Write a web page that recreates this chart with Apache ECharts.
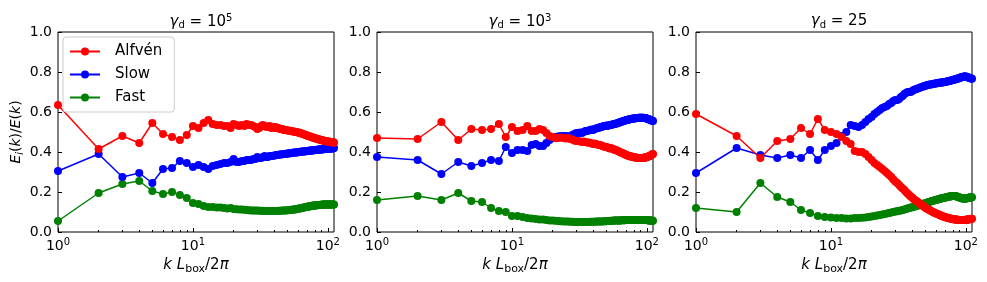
<!DOCTYPE html>
<html><head><meta charset="utf-8">
<script src="https://cdn.jsdelivr.net/npm/echarts@6/dist/echarts.min.js"></script>
<style>html,body{margin:0;padding:0;background:#fff}#c{width:987px;height:282px}</style>
</head><body><div id="c"></div>
<script>
const K = [1,2,3,4,5,6,7,8,9,10,11,12,13,14,15,16,17,18,19,20,21,22,23,24,25,26,27,28,29,30,31,32,33,34,35,36,37,38,39,40,41,42,43,44,45,46,47,48,49,50,51,52,53,54,55,56,57,58,59,60,61,62,63,64,65,66,67,68,69,70,71,72,73,74,75,76,77,78,79,80,81,82,83,84,85,86,87,88,89,90,91,92,93,94,95,96,97,98,99,100,101,102,103,104,105,106,107,108,109,110,111];
const seriesNames = ['Alfvén','Slow','Fast'];
const panelTitles = [['5'],['3'],['25']];
const xTicks = [1,10,100];
const xMinorTicks = [2,3,4,5,6,7,8,9,20,30,40,50,60,70,80,90];
const yTicks = [0,0.2,0.4,0.6,0.8,1.0];

// Panel 1: gamma_d = 1e5
const alfven1 = [0.635,0.415,0.48,0.445,0.545,0.49,0.475,0.46,0.485,0.53,0.52,0.545,0.56,
0.54,0.535,0.535,0.53,0.53,0.52,0.54,
0.535,0.53,0.535,0.53,0.54,0.535,0.535,0.53,0.525,0.515,
0.52,0.53,0.535,0.53,0.525,0.525,0.53,0.52,0.525,0.52,
0.525,0.52,0.52,0.515,0.515,0.515,0.51,0.51,0.51,0.508,
0.507,0.506,0.505,0.504,0.503,0.502,0.501,0.50,0.499,0.498,
0.497,0.495,0.494,0.492,0.49,0.489,0.487,0.486,0.484,0.483,
0.481,0.48,0.478,0.477,0.476,0.474,0.473,0.472,0.47,0.469,
0.468,0.467,0.466,0.465,0.464,0.463,0.462,0.461,0.46,0.459,
0.458,0.457,0.457,0.456,0.455,0.455,0.454,0.453,0.453,0.452,
0.452,0.451,0.451,0.45,0.45,0.45,0.449,0.449,0.449,0.448,0.448];
const slow1 = [0.305,0.39,0.275,0.295,0.245,0.315,0.32,0.355,0.345,0.325,0.335,0.325,0.315,
0.33,0.335,0.34,0.345,0.345,0.35,0.365,
0.35,0.35,0.355,0.355,0.36,0.36,0.36,0.365,0.365,0.375,
0.37,0.37,0.375,0.38,0.375,0.375,0.38,0.38,0.38,0.382,
0.384,0.385,0.386,0.387,0.388,0.389,0.39,0.39,0.391,0.392,
0.393,0.394,0.394,0.395,0.396,0.397,0.397,0.398,0.398,0.399,
0.40,0.40,0.401,0.402,0.402,0.403,0.403,0.404,0.404,0.405,
0.405,0.406,0.406,0.407,0.407,0.408,0.408,0.409,0.409,0.41,
0.41,0.41,0.411,0.411,0.412,0.412,0.412,0.413,0.413,0.413,
0.414,0.414,0.414,0.415,0.415,0.415,0.416,0.416,0.416,0.417,
0.417,0.417,0.417,0.418,0.418,0.418,0.418,0.419,0.419,0.419,0.42];
const fast1 = [0.055,0.195,0.24,0.255,0.205,0.19,0.20,0.185,0.17,0.145,0.14,0.13,0.125,
0.125,0.122,0.122,0.12,0.118,0.12,0.115,
0.114,0.113,0.112,0.111,0.11,0.109,0.108,0.108,0.107,0.107,
0.106,0.106,0.106,0.105,0.105,0.105,0.105,0.105,0.105,0.105,
0.105,0.105,0.106,0.106,0.106,0.107,0.107,0.108,0.108,0.109,
0.109,0.11,0.11,0.111,0.112,0.112,0.113,0.114,0.115,0.116,
0.117,0.118,0.119,0.12,0.121,0.122,0.123,0.124,0.125,0.126,
0.127,0.128,0.128,0.129,0.13,0.131,0.131,0.132,0.132,0.133,
0.133,0.134,0.134,0.134,0.135,0.135,0.135,0.136,0.136,0.136,
0.136,0.137,0.137,0.137,0.137,0.137,0.137,0.138,0.138,0.138,
0.138,0.138,0.138,0.138,0.138,0.138,0.138,0.137,0.137,0.137,0.137];

// Panel 2: gamma_d = 1e3
const alfven2 = [0.47,0.465,0.55,0.46,0.515,0.51,0.515,0.54,0.475,0.525,0.505,0.51,0.53,
0.505,0.505,0.515,0.51,0.495,0.48,0.475,
0.47,0.47,0.472,0.47,0.468,0.47,0.465,0.462,0.458,0.455,
0.455,0.452,0.45,0.452,0.45,0.448,0.447,0.445,0.443,0.44,
0.442,0.44,0.438,0.435,0.435,0.432,0.43,0.428,0.425,0.425,
0.424,0.42,0.418,0.42,0.417,0.415,0.413,0.41,0.41,0.408,
0.405,0.403,0.40,0.398,0.396,0.394,0.392,0.39,0.388,0.386,
0.384,0.382,0.381,0.38,0.379,0.378,0.377,0.376,0.375,0.374,
0.373,0.372,0.372,0.371,0.371,0.37,0.37,0.37,0.37,0.37,
0.37,0.37,0.37,0.371,0.371,0.372,0.372,0.373,0.374,0.375,
0.376,0.377,0.378,0.379,0.38,0.382,0.383,0.385,0.387,0.389,0.39];
const slow2 = [0.375,0.36,0.29,0.35,0.33,0.345,0.36,0.355,0.425,0.395,0.41,0.41,0.405,
0.435,0.44,0.43,0.43,0.445,0.46,0.47,
0.475,0.478,0.48,0.48,0.48,0.478,0.48,0.485,0.49,0.495,
0.495,0.497,0.495,0.50,0.505,0.505,0.508,0.51,0.512,0.51,
0.515,0.518,0.52,0.52,0.525,0.525,0.528,0.53,0.53,0.532,
0.53,0.533,0.535,0.535,0.537,0.538,0.54,0.54,0.542,0.543,
0.545,0.547,0.548,0.55,0.552,0.553,0.555,0.556,0.558,0.559,
0.56,0.561,0.562,0.563,0.564,0.565,0.566,0.566,0.567,0.568,
0.568,0.569,0.569,0.57,0.57,0.57,0.571,0.571,0.571,0.571,
0.571,0.571,0.571,0.571,0.57,0.57,0.57,0.569,0.568,0.567,
0.566,0.565,0.564,0.563,0.562,0.56,0.559,0.558,0.557,0.556,0.555];
const fast2 = [0.16,0.18,0.16,0.195,0.155,0.15,0.12,0.105,0.10,0.08,0.08,0.075,0.07,
0.068,0.065,0.063,0.062,0.06,0.058,0.057,
0.056,0.055,0.054,0.053,0.052,0.052,0.051,0.051,0.05,0.05,
0.05,0.05,0.05,0.05,0.05,0.05,0.05,0.051,0.051,0.051,
0.051,0.052,0.052,0.052,0.053,0.053,0.053,0.054,0.054,0.054,
0.055,0.055,0.055,0.056,0.056,0.056,0.057,0.057,0.057,0.057,
0.058,0.058,0.058,0.058,0.059,0.059,0.059,0.059,0.059,0.06,
0.06,0.06,0.06,0.06,0.06,0.06,0.06,0.06,0.06,0.06,
0.06,0.06,0.06,0.06,0.06,0.06,0.06,0.06,0.06,0.06,
0.06,0.06,0.06,0.06,0.06,0.06,0.06,0.06,0.06,0.06,
0.059,0.059,0.058,0.058,0.058,0.057,0.057,0.057,0.056,0.056,0.056];

// Panel 3: gamma_d = 25
const alfven3 = [0.59,0.48,0.37,0.455,0.465,0.52,0.49,0.565,0.51,0.50,0.49,0.475,0.455,
0.44,0.405,0.40,0.40,0.39,0.375,0.36,
0.345,0.335,0.325,0.315,0.305,0.295,0.285,0.275,0.262,0.252,
0.245,0.235,0.225,0.218,0.21,0.20,0.192,0.185,0.178,0.172,
0.165,0.16,0.155,0.15,0.145,0.14,0.135,0.13,0.126,0.122,
0.118,0.115,0.112,0.109,0.106,0.103,0.10,0.098,0.095,0.093,
0.091,0.089,0.087,0.085,0.083,0.081,0.079,0.077,0.076,0.075,
0.073,0.072,0.071,0.07,0.069,0.068,0.067,0.066,0.065,0.065,
0.064,0.063,0.063,0.062,0.062,0.061,0.061,0.061,0.06,0.06,
0.06,0.06,0.06,0.06,0.06,0.06,0.06,0.06,0.061,0.061,
0.061,0.062,0.062,0.063,0.063,0.064,0.064,0.065,0.065,0.066,0.066];
const slow3 = [0.295,0.42,0.385,0.37,0.385,0.37,0.41,0.36,0.41,0.43,0.445,0.48,0.50,
0.535,0.53,0.525,0.535,0.55,0.565,0.575,
0.59,0.60,0.61,0.62,0.625,0.63,0.64,0.645,0.655,0.66,
0.66,0.665,0.675,0.68,0.69,0.695,0.70,0.70,0.70,0.705,
0.71,0.713,0.715,0.718,0.72,0.722,0.725,0.727,0.729,0.731,
0.733,0.735,0.736,0.737,0.738,0.739,0.74,0.741,0.742,0.743,
0.744,0.745,0.746,0.746,0.747,0.748,0.748,0.749,0.75,0.75,
0.751,0.752,0.753,0.754,0.755,0.756,0.757,0.758,0.759,0.76,
0.761,0.762,0.763,0.764,0.765,0.766,0.767,0.768,0.77,0.771,
0.772,0.773,0.774,0.775,0.776,0.776,0.777,0.777,0.777,0.777,
0.776,0.775,0.774,0.773,0.772,0.771,0.77,0.769,0.768,0.767,0.766];
const fast3 = [0.12,0.10,0.245,0.175,0.15,0.11,0.095,0.08,0.075,0.072,0.07,0.07,0.068,
0.067,0.07,0.07,0.071,0.073,0.075,0.078,
0.08,0.082,0.085,0.087,0.09,0.092,0.095,0.097,0.1,0.102,
0.104,0.106,0.108,0.11,0.113,0.115,0.117,0.12,0.122,0.124,
0.126,0.128,0.13,0.132,0.134,0.136,0.138,0.14,0.142,0.144,
0.146,0.148,0.15,0.151,0.153,0.155,0.156,0.158,0.159,0.16,
0.162,0.163,0.164,0.166,0.167,0.168,0.169,0.17,0.171,0.172,
0.173,0.174,0.175,0.176,0.177,0.178,0.178,0.179,0.18,0.18,
0.18,0.18,0.18,0.179,0.178,0.177,0.176,0.175,0.173,0.172,
0.171,0.17,0.169,0.168,0.168,0.167,0.167,0.167,0.167,0.168,
0.168,0.169,0.17,0.17,0.171,0.172,0.172,0.173,0.173,0.174,0.174];

const panels = [[alfven1,slow1,fast1],[alfven2,slow2,fast2],[alfven3,slow3,fast3]];
const colors = ['#ff0000','#0000ff','#008000'];
const FONT = 'DejaVu Sans';
const lefts = [58,377,696];
const W = 276, TOP = 32, H = 200;

const grids = [], xAxes = [], yAxes = [], series = [], titles = [];
lefts.forEach((l,i)=>{
  grids.push({left:l, top:TOP, width:W, height:H, show:true, borderColor:'#000', borderWidth:1, backgroundColor:'transparent'});
  xAxes.push({
    type:'log', logBase:10, gridIndex:i, min:1, max:111,
    name:'{i|k} {i|L}{s|box}/2{i|π}', nameLocation:'middle', nameGap:24,
    nameTextStyle:{fontFamily:FONT, fontSize:15, color:'#000',
      rich:{i:{fontStyle:'italic', fontFamily:FONT, fontSize:15, color:'#000'},
            s:{fontFamily:FONT, fontSize:11, color:'#000', padding:[7,0,0,0]}}},
    axisLine:{show:false}, splitLine:{show:false},
    axisTick:{inside:true, length:4, customValues:xTicks, lineStyle:{color:'#000'}},
    axisLabel:{customValues:xTicks, margin:5, color:'#000', fontFamily:FONT, fontSize:14,
      formatter:(v)=>'10{p|'+Math.round(Math.log10(v))+'}',
      rich:{p:{fontFamily:FONT, fontSize:10, color:'#000', padding:[0,0,8,0]}}}
  });
  xAxes.push({
    type:'log', logBase:10, gridIndex:i, min:1, max:111, position:'bottom',
    axisLine:{show:false}, splitLine:{show:false}, axisLabel:{show:false},
    axisTick:{inside:true, length:2, customValues:xMinorTicks, lineStyle:{color:'#000'}}
  });
  yAxes.push({
    type:'value', gridIndex:i, min:0, max:1, interval:0.2,
    name: i===0 ? '{i|E}{s|i}({i|k})/{i|E}({i|k})' : '',
    nameLocation:'middle', nameGap:33, nameRotate:90,
    nameTextStyle:{fontFamily:FONT, fontSize:14, color:'#000',
      rich:{i:{fontStyle:'italic', fontFamily:FONT, fontSize:14, color:'#000'},
            s:{fontStyle:'italic', fontFamily:FONT, fontSize:10, color:'#000', padding:[7,0,0,0]}}},
    axisLine:{show:false}, splitLine:{show:false},
    axisTick:{inside:true, length:4, lineStyle:{color:'#000'}},
    axisLabel:{margin:6, color:'#000', fontFamily:FONT, fontSize:14, formatter:(v)=>v.toFixed(1)}
  });
  titles.push({
    text:'{g|γ}{s|d} = '+(panelTitles[i][0]==='25' ? '25' : '10{p|'+panelTitles[i][0]+'}'),
    left:l+W/2, top:8, textAlign:'center',
    textStyle:{fontFamily:FONT, fontSize:15, fontWeight:'normal', color:'#000',
      rich:{g:{fontStyle:'italic', fontFamily:FONT, fontSize:15, color:'#000'},
            s:{fontFamily:FONT, fontSize:10, color:'#000', padding:[7,0,0,0]},
            p:{fontFamily:FONT, fontSize:10, color:'#000', padding:[0,0,8,0]}}}
  });
  panels[i].forEach((vals,j)=>{
    series.push({
      type:'line', name:seriesNames[j], xAxisIndex:2*i, yAxisIndex:i,
      data:K.map((k,n)=>[k, vals[n]]),
      symbol:'circle', symbolSize:8, showSymbol:true,
      itemStyle:{color:colors[j]}, lineStyle:{color:colors[j], width:1.5},
      emphasis:{disabled:true}, animation:false, z:3-j
    });
  });
});

const chart = echarts.init(document.getElementById('c'), null, {renderer:'canvas'});
chart.setOption({
  animation:false,
  title:titles,
  legend:{
    data:seriesNames, orient:'vertical', left:63, top:37,
    padding:[7,12,7,6], itemGap:8, itemWidth:30, itemHeight:10,
    borderColor:'#cccccc', borderWidth:1, borderRadius:3, backgroundColor:'#fff',
    textStyle:{fontFamily:FONT, fontSize:15, color:'#000', padding:[0,0,0,10]},
    selectedMode:false
  },
  grid:grids, xAxis:xAxes, yAxis:yAxes, series:series
});
</script>
</body></html>
